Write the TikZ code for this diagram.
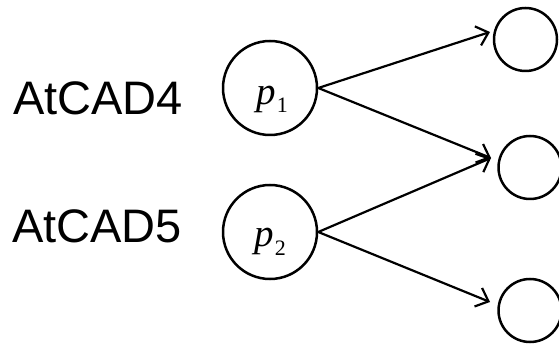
\documentclass[tikz,border=0pt]{standalone}
\usepackage{fontspec}
\setmainfont{Liberation Sans}
\newfontfamily\tnr{Liberation Serif}
\usetikzlibrary{arrows.meta}
\newcommand{\pvar}[1]{{\tnr\fontsize{39}{39}\selectfont\itshape p}\kern1pt\raisebox{-8.5pt}{\tnr\fontsize{22}{22}\selectfont #1}}
\tikzset{
  state/.style={circle, draw, line width=2.5pt, inner sep=0pt, minimum size=94pt},
  outstate/.style={circle, draw, line width=2.5pt, inner sep=0pt, minimum size=63pt},
  tag/.style={anchor=base west, inner sep=0pt, font=\fontsize{47}{47}\selectfont},
  sym/.style={anchor=base, inner sep=0pt},
  edge/.style={line width=2.2pt, -{Straight Barb[length=11pt,width=20pt,line width=2.2pt]}}
}
\begin{document}
\begin{tikzpicture}[x=1pt,y=-1pt]
\useasboundingbox (0,0) rectangle (559,344);
\clip (0,0) rectangle (559,344);
% input states with their labels
\node[state] (p1) at (270,88) {};
\node[state] (p2) at (270,232) {};
\node[sym] (s1) at (272,104.5) {\pvar{1}};
\node[sym] (s2) at (270,247) {\pvar{2}};
\node[tag] (a4) at (13,115) {AtCAD4};
\node[tag] (a5) at (12,243) {AtCAD5};
% output states
\node[outstate] (o1) at (525.5,39.5) {};
\node[outstate] (o2) at (530,167.5) {};
\node[outstate] (o3) at (530,310.5) {};
% arrow tips stop just short of the output states
\coordinate (t1) at (490,32);
\coordinate (t2) at (491,158);
\coordinate (t3) at (490,302);
\draw[edge] (p1.east) -- (t1);
\draw[edge] (p1.east) -- (t2);
\draw[edge] (p2.east) -- (t2);
\draw[edge] (p2.east) -- (t3);
\end{tikzpicture}
\end{document}
